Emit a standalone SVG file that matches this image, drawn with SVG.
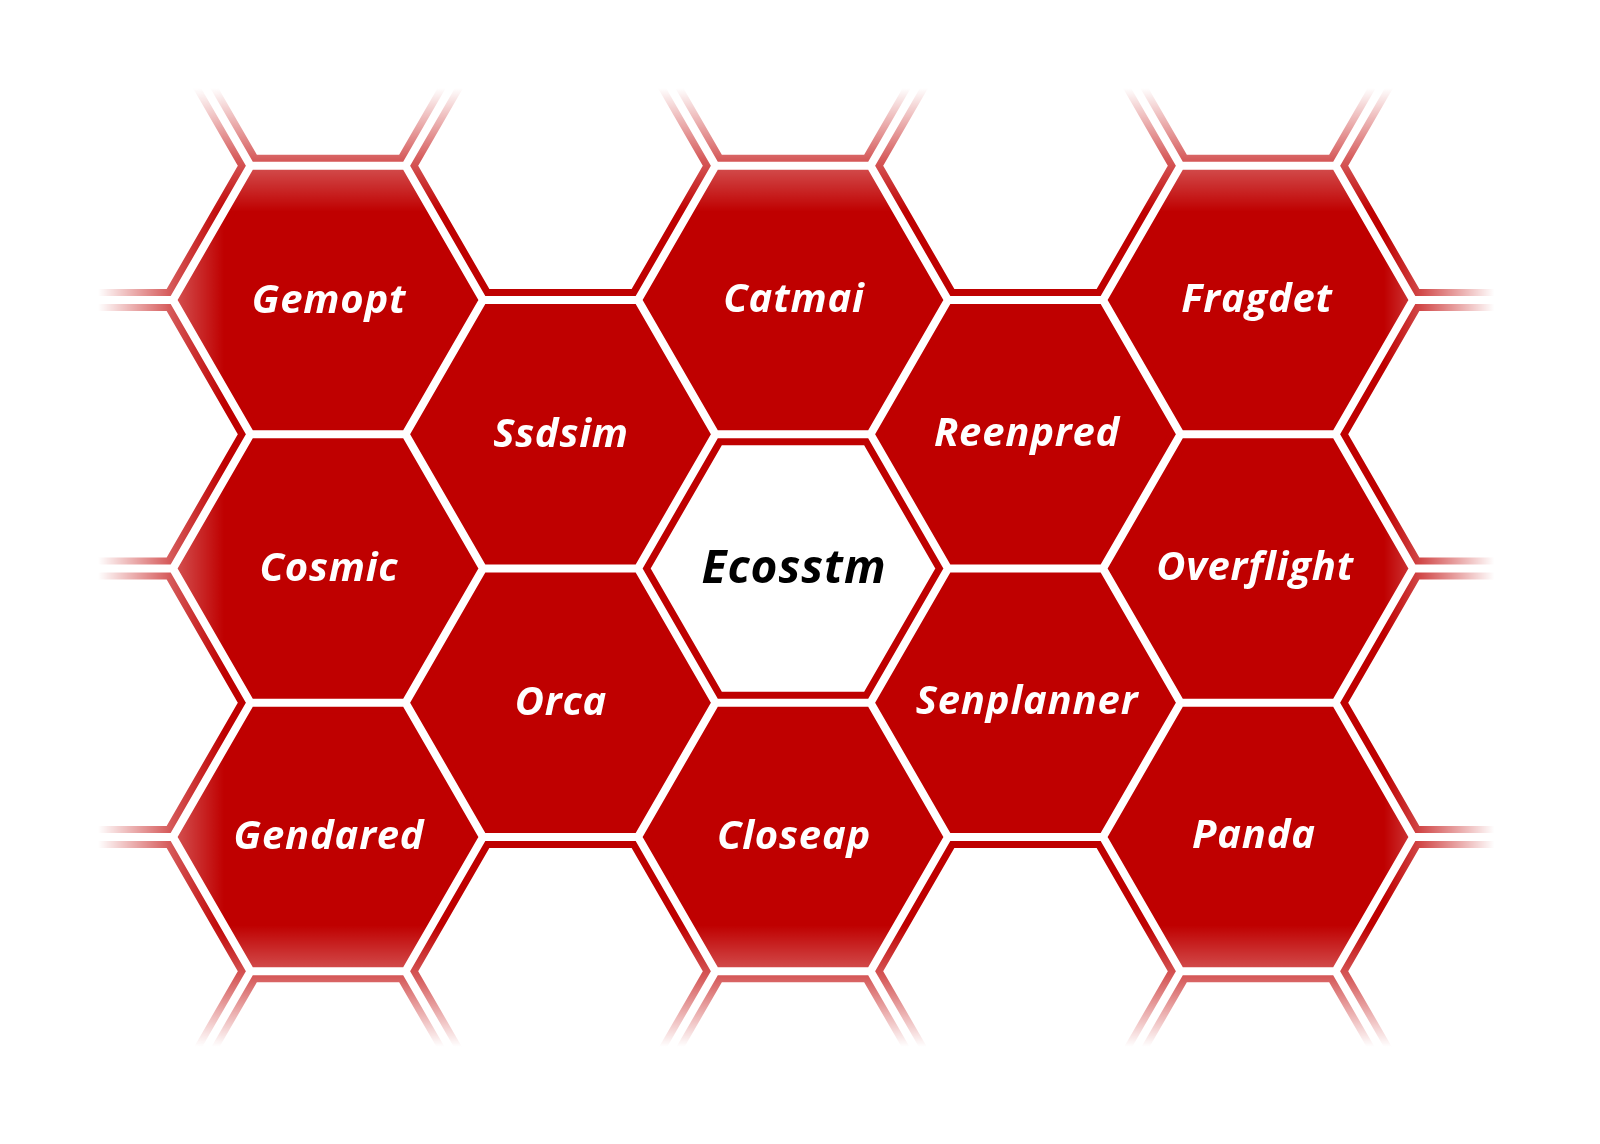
<svg xmlns="http://www.w3.org/2000/svg" xmlns:xlink="http://www.w3.org/1999/xlink" width="1600" height="1144" viewBox="0 0 1600 1144">
  <style>
    .cell { fill: #bf0000; }
    .core { fill: #ffffff; }
    .band { fill: none; stroke: #bf0000; stroke-width: 22; stroke-linejoin: miter; stroke-linecap: butt; }
    .gap { fill: none; stroke: #ffffff; stroke-width: 8; stroke-linejoin: miter; stroke-linecap: butt; }
    .lbl { font-family: "Open Sans", "Noto Sans", "DejaVu Sans", sans-serif; font-weight: 700; font-style: italic; font-size: 40px; letter-spacing: 0.8px; fill: #ffffff; text-anchor: middle; }
    .lbl-core { font-size: 46px; letter-spacing: 1px; fill: #000000; }
  </style>
  <defs>
    <linearGradient id="gV" gradientUnits="userSpaceOnUse" x1="0" y1="0" x2="0" y2="1144">
      <stop offset="0" stop-color="#fff" stop-opacity="0"/>
      <stop offset="0.0770" stop-color="#fff" stop-opacity="0"/>
      <stop offset="0.1399" stop-color="#fff" stop-opacity="0.65"/>
      <stop offset="0.1850" stop-color="#fff" stop-opacity="1"/>
      <stop offset="0.8090" stop-color="#fff" stop-opacity="1"/>
      <stop offset="0.8540" stop-color="#fff" stop-opacity="0.65"/>
      <stop offset="0.9150" stop-color="#fff" stop-opacity="0"/>
      <stop offset="1" stop-color="#fff" stop-opacity="0"/>
    </linearGradient>
    <linearGradient id="gH" gradientUnits="userSpaceOnUse" x1="0" y1="0" x2="1600" y2="0">
      <stop offset="0" stop-color="#fff" stop-opacity="0"/>
      <stop offset="0.0613" stop-color="#fff" stop-opacity="0"/>
      <stop offset="0.1063" stop-color="#fff" stop-opacity="0.65"/>
      <stop offset="0.1400" stop-color="#fff" stop-opacity="1"/>
      <stop offset="0.8650" stop-color="#fff" stop-opacity="1"/>
      <stop offset="0.8875" stop-color="#fff" stop-opacity="0.72"/>
      <stop offset="0.9340" stop-color="#fff" stop-opacity="0"/>
      <stop offset="1" stop-color="#fff" stop-opacity="0"/>
    </linearGradient>
    <mask id="fadeV" maskUnits="userSpaceOnUse" x="0" y="0" width="1600" height="1144">
      <rect x="0" y="0" width="1600" height="1144" fill="url(#gV)"/>
    </mask>
    <mask id="fadeH" maskUnits="userSpaceOnUse" x="0" y="0" width="1600" height="1144">
      <rect x="0" y="0" width="1600" height="1144" fill="url(#gH)"/>
    </mask>
    <path id="grid" d="
      M483,300 L405.5,434.2 L250.5,434.2 L173,300 L250.5,165.8 L405.5,165.8 Z
      M483,568.5 L405.5,702.7 L250.5,702.7 L173,568.5 L250.5,434.2 L405.5,434.2 Z
      M483,836.9 L405.5,971.2 L250.5,971.2 L173,836.9 L250.5,702.7 L405.5,702.7 Z
      M715.5,434.2 L638,568.5 L483,568.5 L405.5,434.2 L483,300 L638,300 Z
      M715.5,702.7 L638,836.9 L483,836.9 L405.5,702.7 L483,568.5 L638,568.5 Z
      M948,300 L870.5,434.2 L715.5,434.2 L638,300 L715.5,165.8 L870.5,165.8 Z
      M948,568.5 L870.5,702.7 L715.5,702.7 L638,568.5 L715.5,434.2 L870.5,434.2 Z
      M948,836.9 L870.5,971.2 L715.5,971.2 L638,836.9 L715.5,702.7 L870.5,702.7 Z
      M1180.5,434.2 L1103,568.5 L948,568.5 L870.5,434.2 L948,300 L1103,300 Z
      M1180.5,702.7 L1103,836.9 L948,836.9 L870.5,702.7 L948,568.5 L1103,568.5 Z
      M1413,300 L1335.5,434.2 L1180.5,434.2 L1103,300 L1180.5,165.8 L1335.5,165.8 Z
      M1413,568.5 L1335.5,702.7 L1180.5,702.7 L1103,568.5 L1180.5,434.2 L1335.5,434.2 Z
      M1413,836.9 L1335.5,971.2 L1180.5,971.2 L1103,836.9 L1180.5,702.7 L1335.5,702.7 Z
      M250.5,165.8 L173,31.6 M405.5,165.8 L483,31.6
      M715.5,165.8 L638,31.6 M870.5,165.8 L948,31.6
      M1180.5,165.8 L1103,31.6 M1335.5,165.8 L1413,31.6
      M250.5,971.2 L173,1105.4 M405.5,971.2 L483,1105.4
      M715.5,971.2 L638,1105.4 M870.5,971.2 L948,1105.4
      M1180.5,971.2 L1103,1105.4 M1335.5,971.2 L1413,1105.4
      M173,300 L18,300 M173,568.5 L18,568.5 M173,836.9 L18,836.9
      M1413,300 L1568,300 M1413,568.5 L1568,568.5 M1413,836.9 L1568,836.9"/>
  </defs>
  <rect x="0" y="0" width="1600" height="1144" fill="#ffffff"/>
  <g mask="url(#fadeV)">
    <g mask="url(#fadeH)">
      <g id="nodes">
        <g id="node-gemopt"><polygon class="cell" points="483,300 405.5,434.2 250.5,434.2 173,300 250.5,165.8 405.5,165.8"/><text class="lbl" x="329" y="313">Gemopt</text></g>
        <g id="node-cosmic"><polygon class="cell" points="483,568.5 405.5,702.7 250.5,702.7 173,568.5 250.5,434.2 405.5,434.2"/><text class="lbl" x="329" y="581">Cosmic</text></g>
        <g id="node-gendared"><polygon class="cell" points="483,836.9 405.5,971.2 250.5,971.2 173,836.9 250.5,702.7 405.5,702.7"/><text class="lbl" x="329" y="849">Gendared</text></g>
        <g id="node-ssdsim"><polygon class="cell" points="715.5,434.2 638,568.5 483,568.5 405.5,434.2 483,300 638,300"/><text class="lbl" x="561" y="447">Ssdsim</text></g>
        <g id="node-orca"><polygon class="cell" points="715.5,702.7 638,836.9 483,836.9 405.5,702.7 483,568.5 638,568.5"/><text class="lbl" x="561" y="715">Orca</text></g>
        <g id="node-catmai"><polygon class="cell" points="948,300 870.5,434.2 715.5,434.2 638,300 715.5,165.8 870.5,165.8"/><text class="lbl" x="794" y="312">Catmai</text></g>
        <g id="node-ecosstm"><polygon class="core" points="948,568.5 870.5,702.7 715.5,702.7 638,568.5 715.5,434.2 870.5,434.2"/><text class="lbl lbl-core" x="794" y="583">Ecosstm</text></g>
        <g id="node-closeap"><polygon class="cell" points="948,836.9 870.5,971.2 715.5,971.2 638,836.9 715.5,702.7 870.5,702.7"/><text class="lbl" x="794" y="849">Closeap</text></g>
        <g id="node-reenpred"><polygon class="cell" points="1180.5,434.2 1103,568.5 948,568.5 870.5,434.2 948,300 1103,300"/><text class="lbl" x="1027" y="446">Reenpred</text></g>
        <g id="node-senplanner"><polygon class="cell" points="1180.5,702.7 1103,836.9 948,836.9 870.5,702.7 948,568.5 1103,568.5"/><text class="lbl" x="1027" y="714">Senplanner</text></g>
        <g id="node-fragdet"><polygon class="cell" points="1413,300 1335.5,434.2 1180.5,434.2 1103,300 1180.5,165.8 1335.5,165.8"/><text class="lbl" x="1257" y="312">Fragdet</text></g>
        <g id="node-overflight"><polygon class="cell" points="1413,568.5 1335.5,702.7 1180.5,702.7 1103,568.5 1180.5,434.2 1335.5,434.2"/><text class="lbl" x="1255" y="580">Overflight</text></g>
        <g id="node-panda"><polygon class="cell" points="1413,836.9 1335.5,971.2 1180.5,971.2 1103,836.9 1180.5,702.7 1335.5,702.7"/><text class="lbl" x="1254" y="848">Panda</text></g>
      </g>
      <g id="connectors">
        <use xlink:href="#grid" class="band"/>
        <use xlink:href="#grid" class="gap"/>
      </g>
    </g>
  </g>
</svg>
